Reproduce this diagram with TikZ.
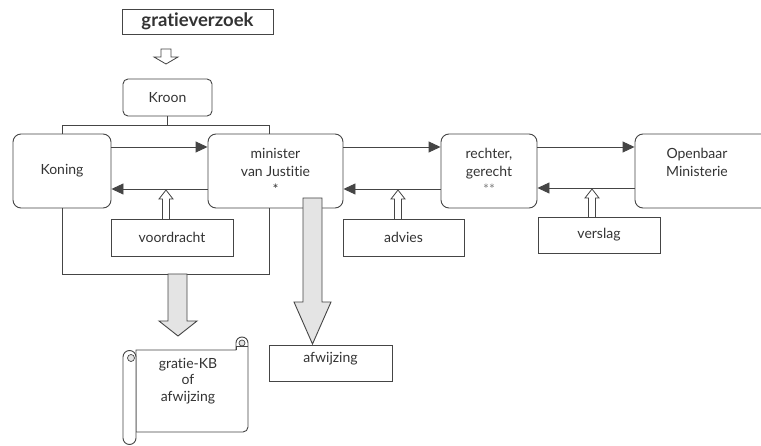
\documentclass[tikz,border=0pt]{standalone}
\usepackage{fontspec}
\setmainfont[Ligatures={NoCommon,NoRare}]{Lato}
\usetikzlibrary{arrows.meta,calc}
\definecolor{ln}{HTML}{454545}
\definecolor{txt}{HTML}{333333}
\definecolor{gfill}{HTML}{E4E4E4}
\begin{document}
\begin{tikzpicture}[x=1pt,y=-1pt,
  every node/.style={text=txt, font=\fontsize{14}{18}\selectfont},
  rbox/.style={draw=ln, line width=0.9pt, rounded corners=8pt, inner sep=0pt},
  sbox/.style={draw=ln, line width=0.9pt, inner sep=0pt},
  ln/.style={draw=ln, line width=0.9pt},
  flow/.style={ln, -{Triangle[length=12pt,width=11pt]}},
  openarr/.style={draw=ln, line width=0.8pt, fill=white},
  grayarr/.style={draw=ln, line width=0.9pt, fill=gfill},
]
\useasboundingbox (0,0) rectangle (761,446);
\clip (0,0) rectangle (761,446);

% top
\node[sbox, minimum width=151pt, minimum height=25pt, font=\bfseries\fontsize{18.5}{21}\selectfont] (req) at (197.5,21.5) {gratieverzoek};
\node[rbox, rounded corners=5pt, minimum width=89pt, minimum height=37pt] (kroon) at (167.5,97.5) {Kroon};
\draw[openarr] (161,49) -- (171,49) -- (171,57) -- (178,57) -- (166,64) -- (154,57) -- (161,57) -- cycle;

% main boxes
\node[rbox, minimum width=98pt, minimum height=74pt] (koning) at (62,171) {Koning};
\node[rbox, minimum width=135pt, minimum height=74pt, align=center] (minister) at (275.5,171) {minister\\van Justitie\\*};
\node[rbox, minimum width=96pt, minimum height=74pt, align=center] (rechter) at (489,171) {rechter,\\gerecht\\{\color{gray}**}};
\node[rbox, minimum width=142pt, minimum height=74pt] (om) at (706,171) {};
\node[align=center, inner sep=0pt] (omt) at (697,162) {Openbaar\\Ministerie};

% bracket from Kroon
\coordinate (tl) at (62,125);
\coordinate (tr) at (269,125);
\draw[ln] (kroon.south) -- (kroon.south |- tl);
\draw[ln] (koning.north) -- (tl) -- (tr) -- (tr |- minister.north);

% lower frame
\coordinate (bl) at (62,274);
\coordinate (br) at (269,274);
\draw[ln] (koning.south) -- (bl) -- (br) -- (br |- minister.south);

% flow arrows
\draw[flow] ([yshift=24pt]koning.east) -- ([yshift=24pt]minister.west);
\draw[flow] ([yshift=-18pt]minister.west) -- ([yshift=-18pt]koning.east);
\draw[flow] ([yshift=24pt]minister.east) -- ([yshift=24pt]rechter.west);
\draw[flow] ([yshift=-18pt]rechter.west) -- ([yshift=-18pt]minister.east);
\draw[flow] ([yshift=24pt]rechter.east) -- ([yshift=24pt]om.west);
\draw[flow] ([yshift=-17pt]om.west) -- ([yshift=-17pt]rechter.east);

% lower boxes
\node[sbox, minimum width=122pt, minimum height=37pt] (voordracht) at (172,237.5) {voordracht};
\node[sbox, minimum width=121pt, minimum height=37pt] (advies) at (403.5,237.5) {advies};
\node[sbox, minimum width=122pt, minimum height=36pt] (verslag) at (599,235) {verslag};
\node[sbox, minimum width=123pt, minimum height=36pt] (afw) at (330.5,363) {};
\node[inner sep=0pt] (afwt) at (330.5,359) {afwijzing};

% open arrows
\draw[openarr] (162.5,219) -- (162.5,199) -- (159,199) -- (166,190) -- (173,199) -- (169.5,199) -- (169.5,219);
\draw[openarr] (394.5,219) -- (394.5,199) -- (391,199) -- (398,190) -- (405,199) -- (401.5,199) -- (401.5,219);
\draw[openarr] (588.5,217) -- (588.5,198) -- (585,198) -- (592,189) -- (599,198) -- (595.5,198) -- (595.5,217);

% gray arrows
\draw[grayarr] (168,274) -- (187,274) -- (187,321) -- (197,321) -- (178,336) -- (159,321) -- (168,321) -- cycle;
\draw[grayarr] (303,198) -- (322,198) -- (322,302) -- (331,302) -- (312.5,344) -- (294,302) -- (303,302) -- cycle;

% scroll
\draw[ln, fill=white] (136,432) -- (243,432) arc[start angle=90, end angle=0, radius=5]
   -- (248,343) arc[start angle=0, end angle=-180, radius=6] -- (236,350) -- (136,350) -- cycle;
\draw[ln, fill=gfill, line width=0.7pt] (242,343) circle (3);
\draw[ln, line width=0.7pt] (236,350) -- (236,346) -- (248,346);
\draw[ln, fill=white] (123,357) -- (123,438) arc[start angle=180, end angle=0, radius=6.5]
   -- (136,357) arc[start angle=0, end angle=-180, radius=6.5] -- cycle;
\draw[ln, fill=gfill, line width=0.7pt] (131,358) circle (3.5);
\node[align=center, inner sep=0pt, font=\fontsize{14}{16.5}\selectfont] (scroll) at (188,381) {gratie-KB\\of\\afwijzing};
\end{tikzpicture}
\end{document}
